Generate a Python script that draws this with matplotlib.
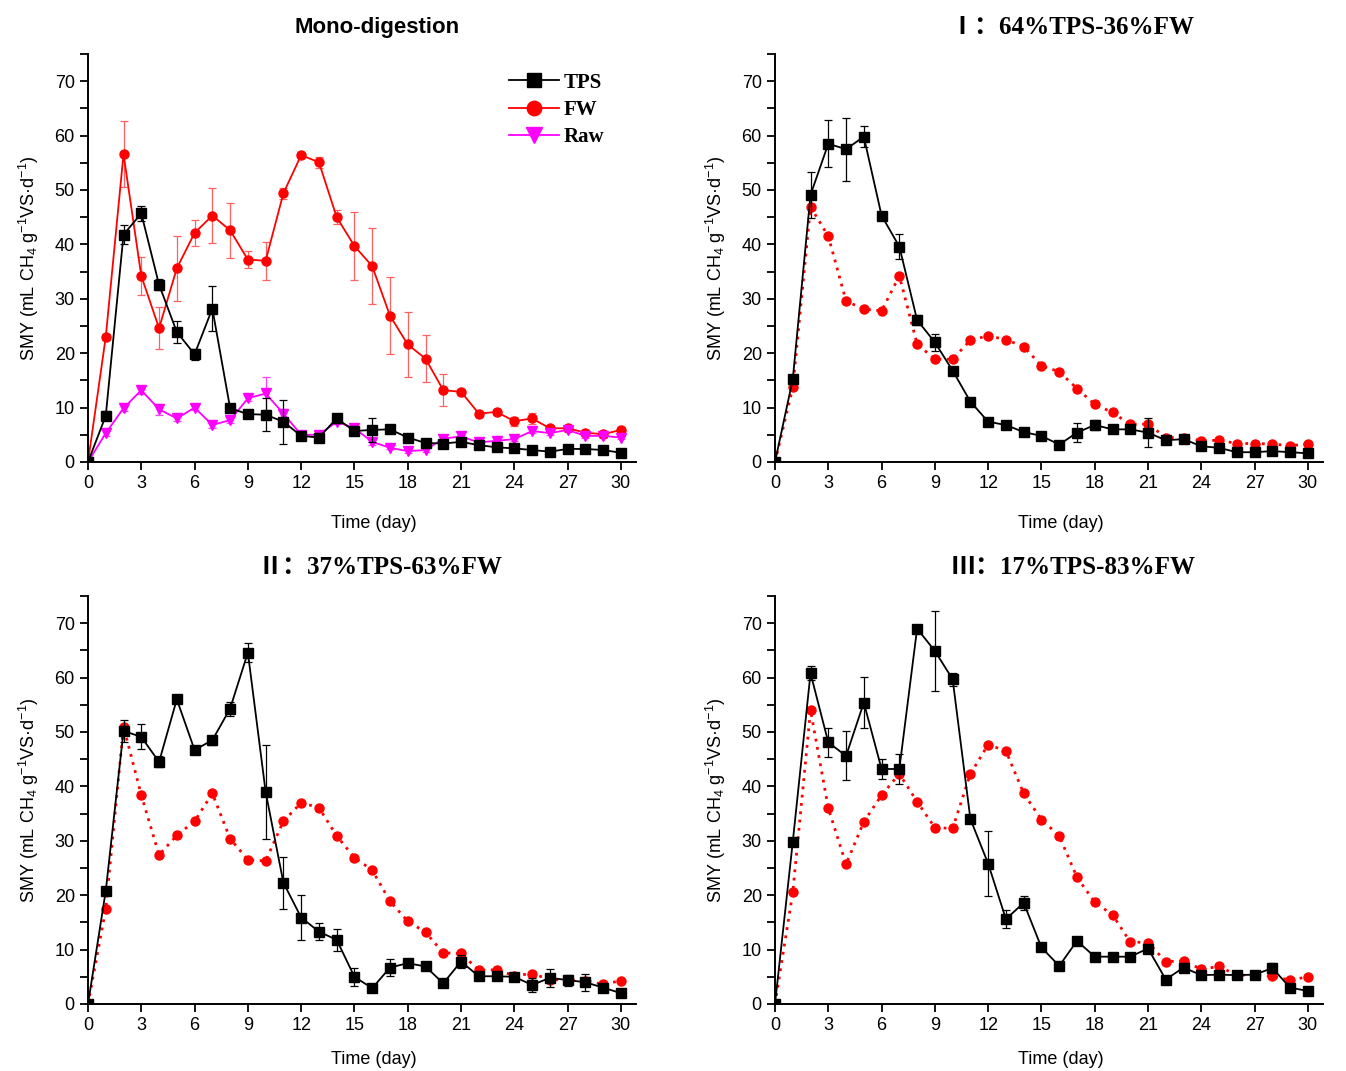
import matplotlib
matplotlib.use("Agg")
import matplotlib.pyplot as plt
from matplotlib.ticker import MultipleLocator

plt.rcParams['font.family'] = ['Liberation Sans', 'DejaVu Sans']
plt.rcParams['mathtext.default'] = 'regular'

days = list(range(31))

# Mono-digestion
mono_tps = [0, 8.5, 41.8, 45.7, 32.6, 23.9, 19.8, 28.2, 9.9, 8.8, 8.7, 7.4, 4.8, 4.5, 8.0, 5.7,
            5.9, 6.0, 4.5, 3.5, 3.4, 3.7, 3.1, 2.7, 2.5, 2.2, 1.9, 2.4, 2.4, 2.2, 1.7]
mono_tps_err = [0, 0.8, 1.7, 1.4, 1.0, 2.1, 1.0, 4.2, 0.5, 0.5, 3.0, 4.0, 0.5, 0.5, 0.8, 0.5,
                2.2, 0.5, 0.5, 0.3, 0.3, 0.3, 0.3, 0.3, 0.3, 0.3, 0.3, 0.3, 0.3, 0.3, 0.3]
mono_fw = [0, 23.0, 56.6, 34.2, 24.6, 35.6, 42.1, 45.3, 42.6, 37.2, 37.0, 49.4, 56.4, 55.1, 45.0, 39.7,
           36.0, 26.9, 21.6, 19.0, 13.2, 12.9, 8.9, 9.2, 7.5, 8.0, 6.2, 6.2, 5.4, 5.1, 5.9]
mono_fw_err = [0, 0.5, 6.1, 3.5, 3.9, 6.0, 2.4, 5.0, 5.1, 1.5, 3.5, 1.0, 0.5, 1.0, 1.3, 6.2,
               7.0, 7.1, 6.0, 4.3, 2.9, 0.5, 0.5, 0.5, 0.8, 1.0, 0.5, 0.5, 0.5, 0.5, 0.5]
mono_raw = [0, 5.3, 9.9, 13.2, 9.7, 8.0, 10.0, 6.8, 7.7, 11.7, 12.6, 8.9, 5.0, 5.0, 7.4, 6.2,
            3.7, 2.6, 2.0, 2.2, 4.3, 4.7, 3.6, 3.9, 4.2, 5.7, 5.3, 5.9, 4.8, 4.8, 4.5]
mono_raw_err = [0, 0.5, 0.5, 0.7, 1.0, 0.5, 0.5, 0.5, 0.5, 0.5, 3.0, 0.8, 0.5, 0.5, 0.5, 0.5,
                0.5, 0.3, 0.3, 0.3, 0.3, 0.3, 0.3, 0.3, 0.3, 0.3, 0.3, 0.3, 0.3, 0.3, 0.3]

# I: 64%TPS-36%FW
m1_tps = [0, 15.2, 49.1, 58.5, 57.5, 59.8, 45.3, 39.6, 26.1, 22.0, 16.8, 11.1, 7.4, 6.8, 5.5, 4.8,
          3.2, 5.4, 6.8, 6.0, 6.0, 5.4, 4.0, 4.2, 2.9, 2.6, 1.8, 1.8, 2.0, 1.8, 1.6]
m1_tps_err = [0, 0.5, 4.2, 4.3, 5.8, 1.9, 0.5, 2.3, 0.9, 1.6, 0.3, 0.7, 0.3, 0.3, 0.3, 0.3,
              0.3, 1.7, 1.0, 0.3, 0.3, 2.7, 0.5, 0.3, 0.3, 0.3, 0.3, 0.3, 0.3, 0.3, 0.3]
m1_fw = [0, 13.7, 46.9, 41.5, 29.6, 28.1, 27.8, 34.2, 21.7, 18.9, 18.9, 22.4, 23.2, 22.5, 21.2, 17.7,
         16.6, 13.5, 10.6, 9.1, 6.9, 7.0, 4.5, 4.5, 3.9, 4.0, 3.4, 3.4, 3.3, 3.0, 3.3]

# II: 37%TPS-63%FW
m2_tps = [0, 20.8, 50.2, 49.1, 44.5, 56.0, 46.7, 48.5, 54.3, 64.6, 39.0, 22.3, 15.9, 13.3, 11.8, 5.0,
          2.9, 6.7, 7.5, 6.9, 3.8, 7.8, 5.1, 5.1, 5.0, 3.5, 4.8, 4.4, 4.0, 3.0, 2.0]
m2_tps_err = [0, 0.5, 2.0, 2.3, 1.0, 0.5, 0.8, 0.8, 1.3, 1.8, 8.6, 4.8, 4.2, 1.5, 2.0, 1.7,
              0.3, 1.5, 0.3, 0.3, 0.3, 1.2, 0.3, 0.3, 0.3, 1.3, 1.6, 1.0, 1.6, 0.3, 0.3]
m2_fw = [0, 17.5, 51.0, 38.4, 27.4, 31.0, 33.6, 38.7, 30.4, 26.5, 26.3, 33.6, 37.0, 36.1, 30.9, 26.9,
         24.6, 18.9, 15.2, 13.2, 9.4, 9.3, 6.2, 6.3, 5.2, 5.6, 4.5, 4.4, 4.3, 3.6, 4.3]

# III: 17%TPS-83%FW
m3_tps = [0, 29.8, 60.8, 48.1, 45.6, 55.4, 43.2, 43.2, 69.0, 64.9, 59.7, 34.0, 25.8, 15.6, 18.6, 10.4,
          7.0, 11.6, 8.7, 8.7, 8.7, 10.2, 4.5, 6.7, 5.3, 5.4, 5.3, 5.4, 6.6, 3.0, 2.4]
m3_tps_err = [0, 0.6, 1.3, 2.7, 4.5, 4.7, 1.8, 2.7, 0.4, 7.3, 1.2, 0.3, 6.0, 1.7, 1.3, 0.7,
              0.3, 0.3, 0.3, 0.7, 0.3, 0.3, 0.3, 0.3, 0.3, 0.3, 0.3, 0.3, 0.9, 0.3, 0.3]
m3_fw = [0, 20.5, 54.0, 36.0, 25.7, 33.5, 38.4, 42.3, 37.2, 32.4, 32.3, 42.3, 47.7, 46.5, 38.7, 33.9,
         30.9, 23.3, 18.7, 16.4, 11.4, 11.3, 7.8, 7.9, 6.4, 6.9, 5.3, 5.3, 5.1, 4.4, 5.0]

titles = ["Mono-digestion", "Ⅰ：64%TPS-36%FW", "Ⅱ：37%TPS-63%FW", "Ⅲ：17%TPS-83%FW"]
ylabel = "SMY (mL CH$_4$ g$^{-1}$VS·d$^{-1}$)"
xlabel = "Time (day)"

W, H = 1346, 1071
fig = plt.figure(figsize=(W / 100, H / 100), dpi=100)

def px_axes(l, r, t, b):
    return fig.add_axes([l / W, 1 - b / H, (r - l) / W, (b - t) / H])

ax1 = px_axes(88, 636, 54, 462)
ax2 = px_axes(775, 1323, 54, 462)
ax3 = px_axes(88, 636, 596, 1004)
ax4 = px_axes(775, 1323, 596, 1004)
axes = [ax1, ax2, ax3, ax4]

for i, ax in enumerate(axes):
    ax.set_xlim(0, 30.85)
    ax.set_ylim(0, 75)
    ax.xaxis.set_major_locator(MultipleLocator(3))
    ax.yaxis.set_major_locator(MultipleLocator(10))
    ax.yaxis.set_minor_locator(MultipleLocator(5))
    for s in ['top', 'right']:
        ax.spines[s].set_visible(False)
    for s in ['left', 'bottom']:
        ax.spines[s].set_linewidth(1.4)
    ax.tick_params(axis='both', which='both', direction='out', width=1.3, labelsize=13)
    ax.tick_params(axis='both', which='major', length=6)
    ax.tick_params(axis='y', which='minor', length=6)
    ax.set_xlabel(xlabel, fontsize=13)
    ax.xaxis.set_label_coords(0.522, -0.13 if i < 2 else -0.115)
    ax.set_ylabel(ylabel, fontsize=13, labelpad=10)

# Panel 1
ax1.errorbar(days, mono_tps, yerr=mono_tps_err, color='black', lw=1.3, marker='s', ms=6.5,
             ecolor='black', elinewidth=0.9, capsize=3, capthick=0.9, label='TPS', zorder=3)
ax1.errorbar(days, mono_fw, yerr=mono_fw_err, color='#ff0000', lw=1.3, marker='o', ms=6.5,
             ecolor='#ff6060', elinewidth=0.9, capsize=3, capthick=0.9, label='FW', zorder=2)
ax1.errorbar(days, mono_raw, yerr=mono_raw_err, color='#ff00ff', lw=1.3, marker='v', ms=7,
             ecolor='#ff40ff', elinewidth=0.9, capsize=3, capthick=0.9, label='Raw', zorder=2)
h, l = ax1.get_legend_handles_labels()
h = [hh[0] for hh in h]
ax1.legend(h, l, loc='upper left', bbox_to_anchor=(0.745, 0.985), frameon=False,
           prop={'family': 'Liberation Serif', 'weight': 'bold', 'size': 15},
           handlelength=2.4, markerscale=1.6, labelspacing=0.35, handletextpad=0.25,
           borderaxespad=0.2)

# Mixture panels
for ax, tps, err, fw in [(ax2, m1_tps, m1_tps_err, m1_fw), (ax3, m2_tps, m2_tps_err, m2_fw),
                         (ax4, m3_tps, m3_tps_err, m3_fw)]:
    ax.plot(days, fw, color='#ff0000', lw=2, ls=(0, (1, 2)), marker='o', ms=6.5, zorder=2)
    ax.errorbar(days, tps, yerr=err, color='black', lw=1.3, marker='s', ms=6.5,
                ecolor='black', elinewidth=0.9, capsize=3, capthick=0.9, zorder=3)

# Titles
fig.text(377 / W, 1 - 27 / H, titles[0], ha='center', va='center', fontsize=16, fontweight='bold',
         family=['Liberation Sans', 'DejaVu Sans'])
serif = ['Liberation Serif', 'Noto Sans CJK SC', 'DejaVu Serif']
fig.text(1072 / W, 1 - 27 / H, titles[1], ha='center', va='center', fontsize=18, fontweight='bold',
         family=serif)
fig.text(380 / W, 1 - 568 / H, titles[2], ha='center', va='center', fontsize=18, fontweight='bold',
         family=serif)
fig.text(1073 / W, 1 - 568 / H, titles[3], ha='center', va='center', fontsize=18, fontweight='bold',
         family=serif)

fig.savefig('out.png', dpi=100)
